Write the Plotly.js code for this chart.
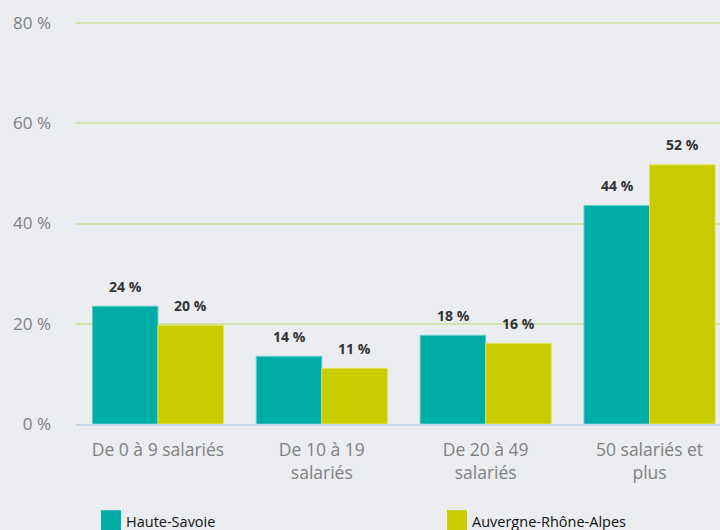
<!DOCTYPE html>
<html>
<head>
<meta charset="utf-8">
<script src="https://cdn.plot.ly/plotly-3.0.1.min.js"></script>
<style>
  html, body { margin: 0; padding: 0; background: #ecedf0; }
  #plot { width: 720px; height: 530px; }
</style>
</head>
<body>
<div id="plot"></div>
<script>
var categories = ['De 0 à 9 salariés', 'De 10 à 19<br>salariés', 'De 20 à 49<br>salariés', '50 salariés et<br>plus'];
var seriesNames = ['Haute-Savoie', 'Auvergne-Rhône-Alpes'];
var hauteSavoie = [23.5, 13.5, 17.7, 43.6];
var auvergne = [19.7, 11.1, 16.1, 51.7];
var hauteSavoieLabels = ['24 %', '14 %', '18 %', '44 %'];
var auvergneLabels = ['20 %', '11 %', '16 %', '52 %'];
var yTicks = [0, 20, 40, 60, 80];
var yTickLabels = ['0 %', '20 %', '40 %', '60 %', '80 %'];

var colors = ['#00aca6', '#c9cc00'];
var grayText = '#808080';

var traces = [
  { type: 'bar', name: seriesNames[0], x: categories, y: hauteSavoie,
    marker: { color: colors[0], line: { color: '#5fd0c8', width: 1 } }, hoverinfo: 'none' },
  { type: 'bar', name: seriesNames[1], x: categories, y: auvergne,
    marker: { color: colors[1], line: { color: '#dfe25a', width: 1 } }, hoverinfo: 'none' }
];

// data labels above each bar
var annotations = [];
var series = [[hauteSavoie, hauteSavoieLabels, -32.5], [auvergne, auvergneLabels, 32.5]];
series.forEach(function (s) {
  categories.forEach(function (c, i) {
    annotations.push({
      x: c, y: s[0][i], xref: 'x', yref: 'y', text: s[1][i],
      showarrow: false, xshift: s[2], yshift: 20,
      font: { family: 'Open Sans, sans-serif', size: 14, color: '#333333', weight: 'bold' }
    });
  });
});

// legend drawn by hand, big squares like the original
var legendX = [101, 447];
var shapes = [];
seriesNames.forEach(function (n, k) {
  shapes.push({ type: 'rect', xref: 'paper', yref: 'paper',
    x0: (legendX[k] - 76) / 644, x1: (legendX[k] + 20 - 76) / 644,
    y0: -86 / 402, y1: -106 / 402, fillcolor: colors[k], line: { width: 0 } });
  annotations.push({ xref: 'paper', yref: 'paper', x: (legendX[k] + 23 - 76) / 644, y: -97 / 402,
    xanchor: 'left', yanchor: 'middle', showarrow: false, text: n,
    font: { family: 'Open Sans, sans-serif', size: 14.5, color: '#111111' } });
});

var layout = {
  width: 720, height: 530,
  margin: { l: 76, r: 0, t: 21, b: 106 },
  paper_bgcolor: '#ecedf0', plot_bgcolor: '#ecedf0',
  font: { family: 'Open Sans, sans-serif' },
  barmode: 'group', bargap: 0.2, bargroupgap: 0,
  showlegend: false,
  xaxis: {
    range: [-0.5, 3.43], showgrid: false, zeroline: false,
    showline: true, linecolor: '#c9d6ea', linewidth: 2,
    ticks: '', ticklabelstandoff: 9,
    tickfont: { size: 17.5, color: grayText }, fixedrange: true
  },
  yaxis: {
    range: [0, 80.4], tickvals: yTicks, ticktext: yTickLabels,
    showgrid: true, gridcolor: '#d3e2b0', gridwidth: 2, zeroline: false,
    showline: false, ticks: '', ticklabelstandoff: 24,
    tickfont: { size: 17, color: grayText }, fixedrange: true
  },
  annotations: annotations,
  shapes: shapes
};

Plotly.newPlot('plot', traces, layout, { displayModeBar: false, staticPlot: true });
</script>
</body>
</html>
